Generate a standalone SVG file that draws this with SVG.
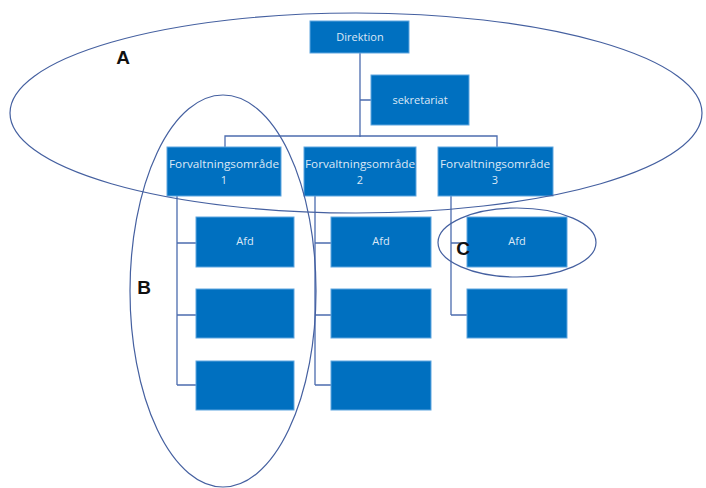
<svg xmlns="http://www.w3.org/2000/svg" width="706" height="488" viewBox="0 0 706 488">
<style>
.box{fill:#0070c0;stroke:#5fa6e0;stroke-width:1}
.t{font-family:"Open Sans","Liberation Sans",sans-serif;font-size:11px;fill:#dce8f6;text-anchor:middle}
.c{fill:none;stroke:#4c6cae;stroke-width:1.3}
.e{fill:none;stroke:#4560a0;stroke-width:1.2}
.lbl{font-family:"Liberation Sans",Arial,sans-serif;font-size:19px;font-weight:bold;fill:#111;text-anchor:middle}
</style>
<rect width="706" height="488" fill="#fff"/>
<g id="connectors">
<path class="c" d="M360,53V137M360,100H371M225,147V136H497V147M177,196V385M177,243H196M177,315H196M177,385H196M315,196V385M315,243H331M315,315H331M315,385H331M451,196V315M451,243H467M451,315H467"/>
</g>
<g id="direktion"><rect class="box" x="310" y="21" width="99" height="32"/><text class="t" x="360" y="41">Direktion</text></g>
<g id="sekretariat"><rect class="box" x="371" y="75" width="98" height="50"/><text class="t" x="420" y="104">sekretariat</text></g>
<g id="fo1"><rect class="box" x="167" y="147" width="114" height="49"/><text class="t" x="224" y="168" textLength="110" lengthAdjust="spacingAndGlyphs">Forvaltningsområde</text><text class="t" x="224" y="184">1</text></g>
<g id="fo2"><rect class="box" x="304" y="147" width="112" height="49"/><text class="t" x="360" y="168" textLength="110" lengthAdjust="spacingAndGlyphs">Forvaltningsområde</text><text class="t" x="360" y="184">2</text></g>
<g id="fo3"><rect class="box" x="438" y="147" width="115" height="49"/><text class="t" x="495" y="168" textLength="110" lengthAdjust="spacingAndGlyphs">Forvaltningsområde</text><text class="t" x="495" y="184">3</text></g>
<g id="afd11"><rect class="box" x="196" y="217" width="98" height="50"/><text class="t" x="245" y="245">Afd</text></g>
<g id="afd12"><rect class="box" x="196" y="289" width="98" height="49"/></g>
<g id="afd13"><rect class="box" x="196" y="361" width="98" height="49"/></g>
<g id="afd21"><rect class="box" x="331" y="217" width="100" height="50"/><text class="t" x="381" y="245">Afd</text></g>
<g id="afd22"><rect class="box" x="331" y="289" width="100" height="49"/></g>
<g id="afd23"><rect class="box" x="331" y="361" width="100" height="49"/></g>
<g id="afd31"><rect class="box" x="467" y="217" width="100" height="50"/><text class="t" x="517" y="245">Afd</text></g>
<g id="afd32"><rect class="box" x="467" y="289" width="100" height="49"/></g>
<g id="ellipseA"><ellipse class="e" cx="356" cy="113" rx="346" ry="100"/><text class="lbl" x="123" y="64">A</text></g>
<g id="ellipseB"><ellipse class="e" cx="223" cy="291" rx="93" ry="196"/><text class="lbl" x="144" y="294">B</text></g>
<g id="ellipseC"><ellipse class="e" cx="517" cy="242.5" rx="79" ry="34.5"/><text class="lbl" x="463" y="255">C</text></g>
</svg>
